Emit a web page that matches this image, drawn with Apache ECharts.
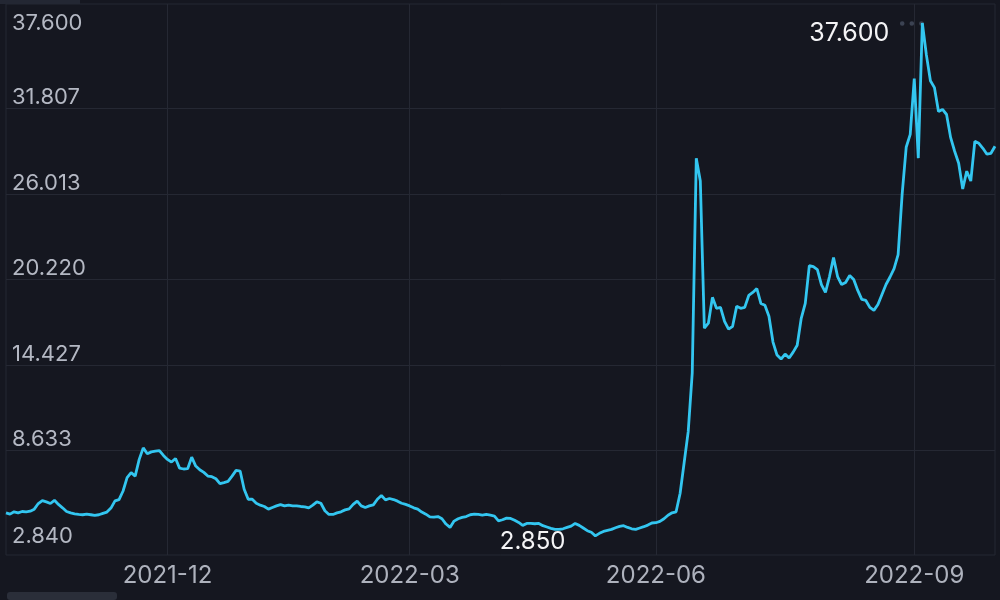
<!DOCTYPE html>
<html>
<head>
<meta charset="utf-8">
<script src="https://cdn.jsdelivr.net/npm/echarts@6/dist/echarts.min.js"></script>
<style>
html,body{margin:0;padding:0;background:#151720;}
#chart{width:1000px;height:600px;}
</style>
</head>
<body>
<div id="chart"></div>
<script>
// ---- data ----
const startDate = '2021-10-05';
const endDate = '2022-09-30';
const holidays = ['2021-10-14','2021-12-27','2022-02-01','2022-02-02','2022-02-03',
  '2022-04-05','2022-04-15','2022-04-18','2022-05-02','2022-05-09','2022-06-03',
  '2022-07-01','2022-09-12'];
const tickMonths = ['2021-12','2022-03','2022-06','2022-09'];
const yMin = 2.84;
const yMax = 37.6;
const ySplits = 6;

const closePrices = [
  4.41, 4.32, 4.48, 4.41, 4.50, 4.48, 4.52, 4.66, 5.04, 5.24,
  5.15, 5.04, 5.26, 4.98, 4.75, 4.50, 4.41, 4.34, 4.30, 4.28,
  4.32, 4.28, 4.23, 4.28, 4.37, 4.46, 4.73, 5.22, 5.31, 5.89,
  6.79, 7.13, 6.90, 8.03, 8.81, 8.41, 8.54, 8.59, 8.63, 8.30,
  8.03, 7.85, 8.09, 7.44, 7.38, 7.40, 8.18, 7.58, 7.33, 7.15,
  6.90, 6.86, 6.72, 6.39, 6.46, 6.54, 6.90, 7.29, 7.24, 6.01,
  5.33,
  5.33, 5.06, 4.93, 4.84, 4.66, 4.77, 4.88, 4.97, 4.88, 4.93,
  4.88, 4.88, 4.84, 4.82, 4.75, 4.93, 5.15, 5.06, 4.55, 4.30,
  4.30, 4.41, 4.48, 4.61, 4.68, 4.98, 5.20, 4.88, 4.77, 4.88,
  4.95, 5.33, 5.58, 5.29, 5.38, 5.31, 5.20, 5.06, 4.98, 4.88,
  4.75, 4.66, 4.46, 4.32, 4.14, 4.12, 4.16, 4.01, 3.65, 3.42,
  3.85, 4.01, 4.10, 4.16, 4.28, 4.32, 4.30, 4.25, 4.30, 4.25,
  4.19, 3.87,
  3.94, 4.05, 4.03, 3.90, 3.76, 3.56, 3.69, 3.69, 3.67, 3.69,
  3.54, 3.45, 3.36, 3.29, 3.29, 3.33, 3.42, 3.51, 3.69, 3.56,
  3.38, 3.20, 3.09, 2.85, 3.02, 3.15, 3.22, 3.29, 3.40, 3.49,
  3.54, 3.42, 3.33, 3.29, 3.38, 3.47, 3.58, 3.72, 3.74, 3.83,
  4.01, 4.25, 4.41, 4.48,
  5.74, 7.82, 9.91, 13.89, 28.44, 26.89,
  16.92, 17.26, 19.01, 18.27, 18.33, 17.39, 16.85, 17.05, 18.40, 18.27,
  18.33, 19.14, 19.34, 19.61, 18.60, 18.47, 17.73, 15.98, 15.10, 14.83,
  15.17, 14.90, 15.30, 15.77, 17.59, 18.60, 21.16, 21.09, 20.89, 19.88,
  19.34, 20.42, 21.70, 20.42, 19.88, 20.02, 20.49, 20.22, 19.48, 18.87,
  18.80, 18.33, 18.13, 18.53, 19.21, 19.88,
  20.39, 20.96, 21.90, 26.00, 29.18, 30.05, 33.83, 28.44, 37.60, 35.44,
  33.69, 33.22, 31.60, 31.74, 31.40, 29.85, 28.91, 28.10, 26.35, 27.56,
  26.89, 29.58, 29.45, 29.11, 28.71, 28.77, 29.25
];

// ---- trading-day categories (weekdays minus exchange holidays) ----
function buildDates() {
  const out = [];
  const d = new Date(startDate + 'T00:00:00Z');
  const end = new Date(endDate + 'T00:00:00Z');
  while (d <= end) {
    const s = d.toISOString().slice(0, 10);
    const wd = d.getUTCDay();
    if (wd !== 0 && wd !== 6 && holidays.indexOf(s) < 0) out.push(s);
    d.setUTCDate(d.getUTCDate() + 1);
  }
  return out;
}
const dates = buildDates();

const tickIdx = {};
tickMonths.forEach(m => {
  const i = dates.findIndex(s => s.slice(0, 7) === m);
  if (i >= 0) tickIdx[i] = m;
});
const isTick = (i) => tickIdx.hasOwnProperty(i);

let maxIdx = 0;
closePrices.forEach((v, i) => { if (v > closePrices[maxIdx]) maxIdx = i; });

const GRID_LEFT = 6, GRID_RIGHT = 5;
const GRID_LINE = '#252833';

const chart = echarts.init(document.getElementById('chart'));
chart.setOption({
  backgroundColor: '#151720',
  animation: false,
  grid: [
    { left: GRID_LEFT, right: GRID_RIGHT, top: 23, bottom: 64, show: false },
    { left: GRID_LEFT, right: GRID_RIGHT, top: 4, bottom: 45, show: true,
      borderColor: GRID_LINE, borderWidth: 1, backgroundColor: 'transparent' }
  ],
  xAxis: [
    { type: 'category', gridIndex: 0, data: dates, boundaryGap: false,
      axisLine: { show: false }, axisTick: { show: false },
      axisLabel: { show: false }, splitLine: { show: false } },
    { type: 'category', gridIndex: 1, data: dates, boundaryGap: false,
      axisLine: { show: false }, axisTick: { show: false },
      splitLine: { show: true, interval: (i) => isTick(i),
        lineStyle: { color: GRID_LINE, width: 1 } },
      axisLabel: { show: true, interval: (i) => isTick(i),
        formatter: (v) => v.slice(0, 7),
        color: '#aeb2bd', fontSize: 24, fontFamily: 'Inter', margin: 9 } }
  ],
  yAxis: [
    { type: 'value', gridIndex: 0, min: yMin, max: yMax,
      interval: (yMax - yMin) / ySplits,
      axisLine: { show: false }, axisTick: { show: false },
      splitLine: { show: true, showMinLine: false, showMaxLine: false,
        lineStyle: { color: GRID_LINE, width: 1 } },
      axisLabel: { inside: true, margin: 6, color: '#b4b8c3', fontSize: 22,
        fontFamily: 'Inter', verticalAlign: 'bottom',
        verticalAlignMinLabel: 'middle', verticalAlignMaxLabel: 'middle',
        showMinLabel: true, showMaxLabel: true,
        formatter: (v) => v.toFixed(3) } },
    { type: 'value', gridIndex: 1, show: false, splitLine: { show: false } }
  ],
  series: [{
    type: 'line',
    xAxisIndex: 0, yAxisIndex: 0,
    data: closePrices,
    symbol: 'none',
    lineStyle: { color: '#33c6f0', width: 2.8 },
    markPoint: {
      symbol: 'circle', symbolSize: 0,
      data: [
        { type: 'max', name: 'max',
          label: { show: true, position: 'left', distance: 33, offset: [0, 10],
            color: '#f4f4f6', fontSize: 25, fontFamily: 'Inter',
            formatter: (p) => Number(p.value).toFixed(3) } },
        { type: 'min', name: 'min',
          label: { show: true, position: 'left', distance: 30, offset: [0, 6],
            color: '#f4f4f6', fontSize: 24, fontFamily: 'Inter',
            formatter: (p) => Number(p.value).toFixed(3) } }
      ]
    },
    markLine: {
      silent: true, symbol: ['none', 'none'],
      label: { show: false },
      z: 1,
      lineStyle: { type: [0.1, 9.5], cap: 'round', color: '#3b4252', width: 4.5 },
      data: [[
        { coord: [dates[maxIdx - 5], yMax] },
        { coord: [dates[maxIdx], yMax] }
      ]]
    }
  }],
  graphic: [
    { type: 'rect', left: 7, top: 592, shape: { width: 110, height: 8, r: 3 },
      style: { fill: '#2a2e39' } },
    { type: 'rect', left: 0, top: 0, shape: { width: 80, height: 4 },
      style: { fill: '#232733' } }
  ]
});
</script>
</body>
</html>
